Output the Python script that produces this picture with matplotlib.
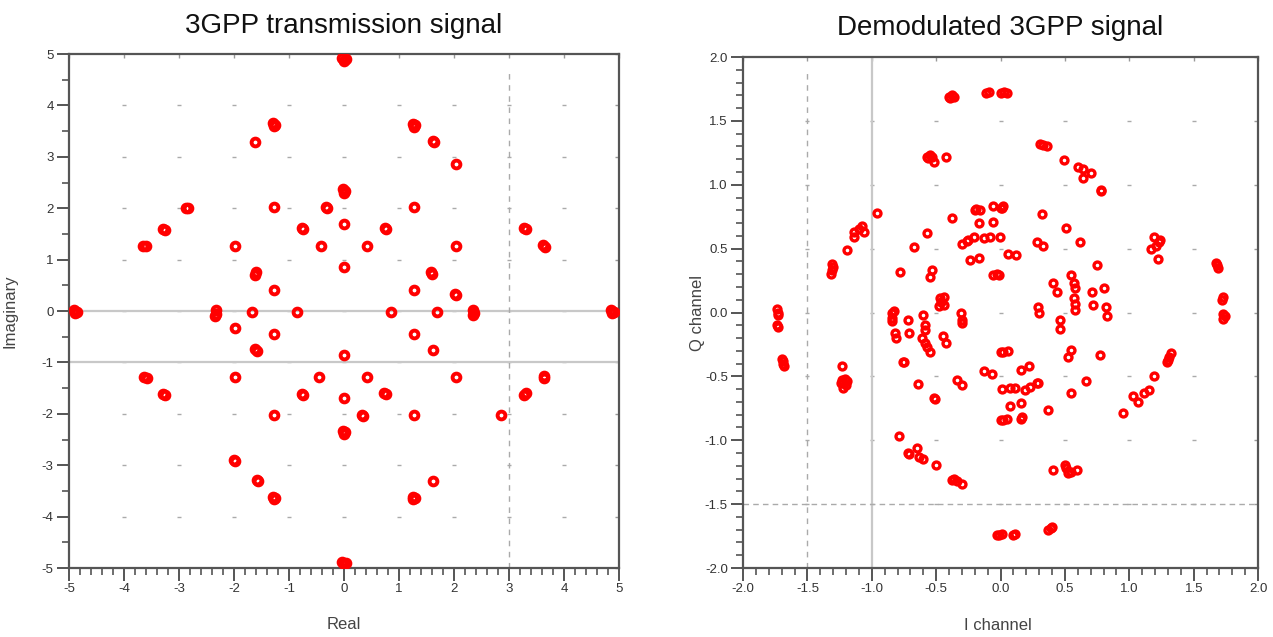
import numpy as np
import matplotlib
matplotlib.use("Agg")
import matplotlib.pyplot as plt
from matplotlib.ticker import MultipleLocator

plt.rcParams["font.family"] = ["Liberation Sans", "DejaVu Sans"]
plt.rcParams["axes.unicode_minus"] = False

  # transmitted constellation (Real, Imaginary); repeated symbols sit close together
tx_points = [
  (-0.03, 4.92), (0.03, 4.90), (0.00, 4.87),
  (-0.03, -4.88), (0.03, -4.91), (0.00, -4.93),
  (-4.91, 0.02), (-4.86, -0.02), (-4.89, -0.04),
  (4.86, 0.02), (4.91, -0.02), (4.88, -0.04),
  (-1.29, 3.65), (-1.25, 3.62), (-1.27, 3.59),
  (1.25, 3.64), (1.29, 3.61), (1.27, 3.58),
  (-1.29, -3.61), (-1.25, -3.64), (-1.27, -3.66),
  (1.25, -3.61), (1.29, -3.64), (1.26, -3.66),
  (-0.02, 2.37), (0.02, 2.34), (0.00, 2.30),
  (-0.02, -2.33), (0.02, -2.36), (0.00, -2.40),
  (-2.33, 0.02), (-2.32, -0.05), (-2.34, -0.09),
  (2.35, 0.02), (2.36, -0.04), (2.34, -0.07),
  (-3.65, 1.27), (-3.60, 1.26), (3.62, 1.28), (3.66, 1.25),
  (-3.64, -1.29), (-3.59, -1.31), (3.63, -1.26), (3.64, -1.31),
  (-3.29, 1.60), (-3.25, 1.58), (3.27, 1.61), (3.31, 1.59),
  (-3.29, -1.61), (-3.25, -1.63), (3.27, -1.63), (3.31, -1.60),
  (-2.88, 2.01), (-2.84, 2.00),
  (-1.60, 0.76), (-1.61, 0.71), (1.58, 0.76), (1.60, 0.72),
  (-1.62, -0.74), (-1.59, -0.77), (0.72, -1.60), (0.77, -1.61),
  (-0.76, 1.61), (-0.74, 1.59), (0.74, 1.61), (0.76, 1.59),
  (-0.76, -1.61), (-0.74, -1.63),
  (-0.33, 2.03), (-0.31, 2.01), (2.02, 0.33), (2.04, 0.31),
  (0.32, -2.03), (0.34, -2.05), (-2.00, -2.89), (-1.99, -2.92),
  (-1.59, -3.28), (-1.57, -3.31), (1.61, 3.30), (1.63, 3.28),
  (-1.61, 3.28), (2.03, 2.86), (-1.27, 2.02), (1.27, 2.02), (0.00, 1.69),
  (-1.99, 1.27), (-0.42, 1.27), (0.42, 1.27), (2.04, 1.27), (0.00, 0.86),
  (-1.27, 0.40), (1.27, 0.40), (-1.68, -0.02), (-0.85, -0.02), (0.86, -0.02),
  (1.69, -0.02), (-1.99, -0.33), (-1.27, -0.44), (1.27, -0.44), (0.00, -0.86),
  (1.62, -0.75), (-1.99, -1.29), (-0.45, -1.29), (0.42, -1.28), (2.04, -1.28),
  (0.00, -1.70), (-1.27, -2.02), (1.27, -2.02), (2.86, -2.02), (1.62, -3.30),
]

  # received symbols after demodulation (I, Q)
rx_outer = [
  (-0.40, 1.69), (-0.38, 1.70), (-0.36, 1.69), (-0.39, 1.68),
  (-0.11, 1.72), (-0.09, 1.73), (0.00, 1.72), (0.03, 1.73), (0.05, 1.72),
  (1.67, 0.39), (1.68, 0.37), (1.69, 0.35), (1.72, 0.10), (1.73, 0.12),
  (1.73, -0.01), (1.73, -0.05), (1.74, -0.03),
  (-1.74, 0.03), (-1.73, 0.00), (-1.73, -0.02), (-1.74, -0.10), (-1.73, -0.11),
  (-1.70, -0.36), (-1.69, -0.40), (-1.68, -0.42), (-1.69, -0.38),
  (-0.03, -1.74), (-0.01, -1.74), (0.01, -1.73), (0.10, -1.74), (0.11, -1.73),
  (0.37, -1.70), (0.40, -1.68), (0.39, -1.69),
]
rx_middle = [
  (0.31, 1.32), (0.33, 1.31), (0.36, 1.30), (0.49, 1.19),
  (0.60, 1.14), (0.64, 1.12), (0.70, 1.09), (0.64, 1.05), (0.78, 0.96), (0.78, 0.95),
  (1.19, 0.59), (1.24, 0.57), (1.21, 0.52), (1.17, 0.50), (1.22, 0.42), (1.23, 0.55),
  (1.32, -0.32), (1.31, -0.35), (1.29, -0.385), (1.30, -0.37), (1.19, -0.50),
  (1.15, -0.61), (1.11, -0.63), (1.07, -0.70), (1.03, -0.65), (0.95, -0.79),
  (0.41, -1.23), (0.50, -1.19), (0.52, -1.26), (0.55, -1.25), (0.59, -1.23), (0.51, -1.22),
  (-0.38, -1.31), (-0.34, -1.32), (-0.30, -1.34), (-0.36, -1.30), (-0.50, -1.19),
  (-0.72, -1.10), (-0.65, -1.06), (-0.63, -1.13), (-0.60, -1.15), (-0.71, -1.11),
  (-0.79, -0.97),
  (-1.23, -0.42), (-1.24, -0.55), (-1.21, -0.52), (-1.19, -0.54), (-1.22, -0.59),
  (-1.20, -0.57), (-1.23, -0.53),
  (-1.32, 0.30), (-1.31, 0.33), (-1.30, 0.36), (-1.31, 0.38), (-1.19, 0.49),
  (-1.14, 0.59), (-1.14, 0.63), (-1.08, 0.68), (-1.10, 0.65), (-1.06, 0.63), (-0.96, 0.78),
  (-0.57, 1.22), (-0.55, 1.23), (-0.53, 1.22), (-0.52, 1.18), (-0.56, 1.21), (-0.42, 1.22),
]
rx_inner = [
  (-0.38, 0.74), (-0.20, 0.80), (-0.16, 0.80), (-0.19, 0.81),
  (-0.06, 0.83), (0.00, 0.82), (0.02, 0.83), (0.01, 0.82),
  (-0.165, 0.70), (-0.06, 0.71), (-0.57, 0.62), (-0.67, 0.51), (-0.78, 0.32),
  (-0.55, 0.28), (-0.53, 0.33), (-0.47, 0.11), (-0.48, 0.05),
  (-0.30, 0.54), (-0.25, 0.57), (-0.21, 0.59), (-0.13, 0.58), (-0.08, 0.59),
  (-0.005, 0.59), (-0.26, 0.56), (-0.24, 0.41), (-0.17, 0.43),
  (-0.06, 0.29), (-0.01, 0.29), (-0.03, 0.30), (0.06, 0.46), (0.12, 0.45),
  (0.28, 0.55), (0.33, 0.52), (0.32, 0.77), (0.51, 0.66), (0.62, 0.555), (0.75, 0.37),
  (0.41, 0.23), (0.44, 0.16), (0.55, 0.29), (0.57, 0.23), (0.58, 0.19),
  (0.57, 0.11), (0.58, 0.02), (0.58, 0.07), (0.71, 0.16), (0.72, 0.06), (0.80, 0.19),
  (0.82, 0.045), (0.83, -0.03), (0.29, 0.045), (0.30, -0.006),
  (0.46, -0.06), (0.46, -0.13), (0.55, -0.29), (0.52, -0.35), (0.77, -0.33),
  (0.66, -0.54), (0.55, -0.63), (0.37, -0.76), (0.16, -0.45), (0.22, -0.42),
  (0.02, -0.31), (0.06, -0.30), (0.00, -0.31), (-0.13, -0.46), (-0.065, -0.48),
  (-0.34, -0.53), (-0.30, -0.57), (0.01, -0.60), (0.07, -0.59), (0.11, -0.59),
  (0.19, -0.61), (0.23, -0.58), (0.28, -0.55), (0.29, -0.55), (0.07, -0.73), (0.16, -0.71),
  (0.00, -0.84), (0.02, -0.84), (0.05, -0.83), (0.17, -0.82), (0.16, -0.83),
  (-0.52, -0.67), (-0.51, -0.68), (-0.64, -0.56), (-0.76, -0.385), (-0.75, -0.39),
  (-0.845, -0.006), (-0.84, -0.045), (-0.84, -0.07), (-0.83, 0.01), (-0.72, -0.06),
  (-0.82, -0.16), (-0.81, -0.20), (-0.71, -0.16),
  (-0.60, -0.02), (-0.59, -0.10), (-0.59, -0.14),
  (-0.61, -0.20), (-0.59, -0.24), (-0.57, -0.27), (-0.55, -0.31),
  (-0.46, 0.085), (-0.44, 0.12), (-0.44, 0.06),
  (-0.31, -0.006), (-0.30, -0.06), (-0.30, -0.085), (-0.45, -0.18), (-0.42, -0.24),
]

  # marker lines in each diagram
tx_hlines = [0.0, -1.0]; tx_vdash = 3.0
rx_vline = -1.0; rx_vdash = -1.5; rx_hdash = -1.5

SPINE = "#555555"; TXT = "#333333"; RED = "#ff0000"; REF = "#c8c8c8"


def style_axes(ax, lim, major, minor):
    ax.set_xlim(-lim, lim); ax.set_ylim(-lim, lim)
    for s in ax.spines.values():
        s.set_color(SPINE); s.set_linewidth(1.6)
    ax.xaxis.set_major_locator(MultipleLocator(major))
    ax.yaxis.set_major_locator(MultipleLocator(major))
    ax.xaxis.set_minor_locator(MultipleLocator(minor[0]))
    ax.yaxis.set_minor_locator(MultipleLocator(minor[1]))
    ax.tick_params(which="major", direction="out", length=9, width=1.4, color=SPINE,
                   labelsize=9.5, labelcolor=TXT, pad=2)
    ax.tick_params(which="minor", direction="out", length=5, width=1.2, color=SPINE)
    # small inward ticks on top and right
    for side, axis in (("top", "x"), ("right", "y")):
        sec = ax.secondary_xaxis(side) if axis == "x" else ax.secondary_yaxis(side)
        getattr(sec, axis + "axis").set_major_locator(MultipleLocator(major))
        sec.tick_params(direction="in", length=3, width=1, color="#999999",
                        labeltop=False, labelright=False)
        sec.spines[side].set_visible(False)
    # grid marks at the major intersections
    g = np.arange(-lim + major, lim, major)
    gx, gy = np.meshgrid(g, g)
    ax.plot(gx.ravel(), gy.ravel(), linestyle="none", marker="_", markersize=3,
            color="#aaaaaa", markeredgewidth=1, zorder=1)


fig = plt.figure(figsize=(12.73, 6.37), dpi=100, facecolor="white")
ax1 = fig.add_axes([0.0542, 0.1083, 0.4321, 0.8069])
ax2 = fig.add_axes([0.5837, 0.1083, 0.4046, 0.8022])

  # left: transmission signal
style_axes(ax1, 5, 1, (0.2, 0.5))
for y in tx_hlines:
    ax1.axhline(y, color=REF, linewidth=1.6, zorder=1)
ax1.plot([tx_vdash, tx_vdash], [-5, 4.7], color="#aaaaaa", linewidth=1,
         linestyle=(0, (4, 4)), zorder=1)
tx = np.array(tx_points)
ax1.plot(tx[:, 0], tx[:, 1], linestyle="none", marker="o", markersize=5.6,
         markerfacecolor="none", markeredgecolor=RED, markeredgewidth=2.8, zorder=3)
ax1.set_title("3GPP transmission signal", fontsize=20, pad=15, color="#111111")
ax1.set_xlabel("Real", fontsize=12, color="#444444")
ax1.set_ylabel("Imaginary", fontsize=12, color="#444444")
ax1.xaxis.set_label_coords(0.5, -0.095)
ax1.yaxis.set_label_coords(-0.093, 0.5)

  # right: demodulated signal
style_axes(ax2, 2, 0.5, (0.1, 0.1))
ax2.axvline(rx_vline, color=REF, linewidth=1.6, zorder=1)
ax2.plot([rx_vdash, rx_vdash], [-2, 1.9], color="#aaaaaa", linewidth=1,
         linestyle=(0, (4, 4)), zorder=1)
ax2.axhline(rx_hdash, color="#aaaaaa", linewidth=1, linestyle=(0, (4, 3)), zorder=1)
ax2.xaxis.set_major_formatter(plt.FormatStrFormatter("%.1f"))
ax2.yaxis.set_major_formatter(plt.FormatStrFormatter("%.1f"))
rx = np.array(rx_outer + rx_middle + rx_inner)
ax2.plot(rx[:, 0], rx[:, 1], linestyle="none", marker="o", markersize=5,
         markerfacecolor="none", markeredgecolor=RED, markeredgewidth=2.4, zorder=3)
ax2.set_title("Demodulated 3GPP signal", fontsize=20, pad=16, color="#111111")
ax2.set_xlabel("I channel", fontsize=12, color="#444444")
ax2.set_ylabel("Q channel", fontsize=12, color="#444444")
ax2.xaxis.set_label_coords(0.495, -0.097)
ax2.yaxis.set_label_coords(-0.074, 0.5)

fig.savefig("out.png", dpi=100, facecolor="white")
